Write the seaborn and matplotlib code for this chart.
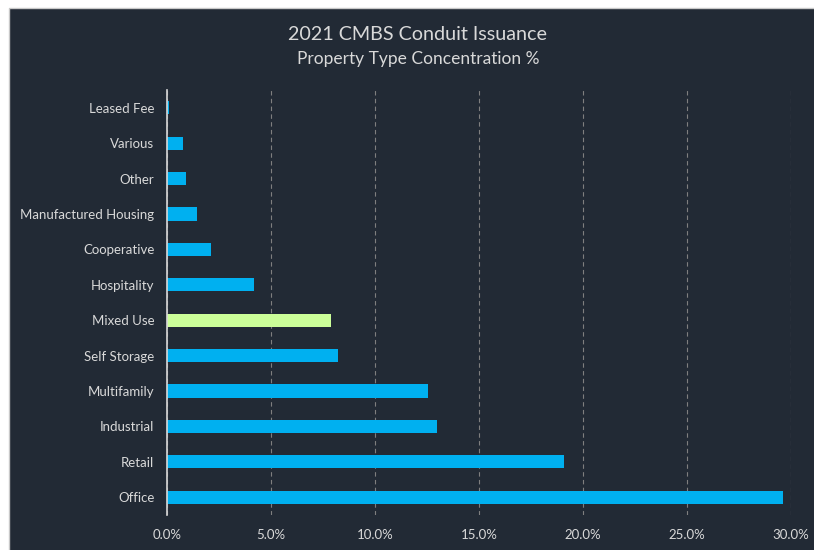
import numpy as np
import pandas as pd
import seaborn as sns
import matplotlib.pyplot as plt
from matplotlib.patches import Rectangle
from matplotlib.ticker import FuncFormatter

# property types, top to bottom as shown
categories = ["Leased Fee", "Various", "Other", "Manufactured Housing", "Cooperative",
              "Hospitality", "Mixed Use", "Self Storage", "Multifamily", "Industrial",
              "Retail", "Office"]
share = [0.1, 0.75, 0.9, 1.45, 2.1, 4.2, 7.9, 8.2, 12.55, 13.0, 19.1, 29.6]
highlight = "Mixed Use"

bg = "#222a35"
txt = "#d9d9d9"
blue = "#00b0f0"
green = "#ccff99"

df = pd.DataFrame({"type": categories, "share": share})
palette = {c: (green if c == highlight else blue) for c in categories}

sns.set_theme(style="dark")
plt.rcParams['font.family'] = ['Lato', 'DejaVu Sans']

fig = plt.figure(figsize=(8.14, 5.5), dpi=100, facecolor="white")
# dark panel, thin light edge only visible on top/left (runs off the figure elsewhere)
panel = Rectangle((9/814, -0.05), 1.05, 1.05 - 8/550, transform=fig.transFigure,
                  facecolor=bg, edgecolor="#c8c8c8", linewidth=1, zorder=-10)
fig.add_artist(panel)
ax = fig.add_axes([167/814, 35/550, 624/814, 425/550])
ax.set_facecolor(bg)

sns.barplot(data=df, x="share", y="type", hue="type", palette=palette, order=categories,
            width=0.37, legend=False, ax=ax, saturation=1, linewidth=0)

ax.set_xlim(0, 30)
ax.set_ylim(len(categories) - 0.5, -0.5)
ax.set_xticks(np.arange(0, 31, 5))
ax.xaxis.set_major_formatter(FuncFormatter(lambda v, p: f"{v:.1f}%"))
ax.grid(axis="x", color="#7f7f7f", linestyle=(0, (4, 3)), linewidth=0.8)
ax.grid(axis="y", visible=False)
ax.set_axisbelow(True)
for s in ["top", "right", "bottom"]:
    ax.spines[s].set_visible(False)
ax.spines["left"].set_color("#d9d9d9")
ax.spines["left"].set_linewidth(1.2)
ax.tick_params(axis="both", colors=txt, labelsize=9.5, length=0)
ax.tick_params(axis="x", pad=10)
ax.tick_params(axis="y", pad=9)
ax.set_xlabel("")
ax.set_ylabel("")

fig.text(418/814, 1 - 34/550, "2021 CMBS Conduit Issuance", color=txt, fontsize=14.2,
         ha="center", va="center")
fig.text(418/814, 1 - 59/550, "Property Type Concentration %", color=txt, fontsize=12.5,
         ha="center", va="center")

fig.savefig("out.png", dpi=100, facecolor=fig.get_facecolor())
